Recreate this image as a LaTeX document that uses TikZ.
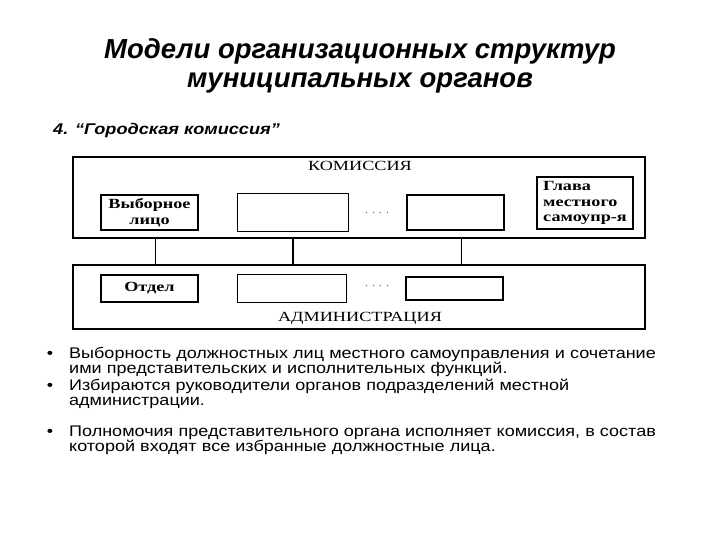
\documentclass[tikz,border=0pt]{standalone}
\usepackage{fontspec}
\setmainfont{Liberation Serif}
\setsansfont{Liberation Sans}
\newfontfamily\diapo[FakeStretch=1.17]{Liberation Sans}
\newfontfamily\scan[FakeStretch=1.3]{Liberation Serif}
\usetikzlibrary{positioning}

\begin{document}
\begin{tikzpicture}[
        % Styles de la figure (1 unité = 1 pixel de la référence)
        x=1pt, y=-1pt,
        every node/.style = {font=\sffamily},
        % Cadres extérieurs (commission, administration)
        cadre/.style = {
            draw,
            line width=2pt,
            minimum width=572pt
        },
        % Blocs intérieurs
        bloc/.style = {
            draw,
            line width=1.5pt,
            minimum width=97pt,
            minimum height=35pt,
            inner sep=1pt,
            align=center,
            font=\scan\bfseries\fontsize{14}{15.5}\selectfont
        },
        % Étiquettes des cadres
        etiquette/.style = {font=\scan\fontsize{14}{15}\selectfont},
        % Points de suspension
        points/.style = {font=\rmfamily\fontsize{12}{12}\selectfont, text=black!60},
        % Liaisons verticales
        lien/.style = {line width=1.5pt},
        % Texte des puces
        item/.style = {
            anchor=base west,
            inner sep=0pt,
            text width=630pt,
            align=left,
            font=\diapo\fontsize{15.4}{15.5}\selectfont
        },
        puce/.style = {anchor=base, inner sep=0pt, font=\diapo\fontsize{15.4}{15.5}\selectfont}
    ]

        \useasboundingbox (0,0) rectangle (720,540);

        % 1. Titres
        \node (titre) [anchor=base, align=center, font=\sffamily\bfseries\itshape\fontsize{27.5}{29}\selectfont]
            at (360,88) {Модели организационных структур\\муниципальных органов};
        \node (soustitre) [anchor=base west, inner sep=0pt, font=\diapo\bfseries\itshape\fontsize{15.5}{18}\selectfont]
            at (53,135) {4. “Городская комиссия”};

        % 2. Cadres extérieurs
        \node (kom) [cadre, minimum height=81pt] at (359,197.5) {};
        \node (adm) [cadre, minimum height=64pt] at (359,297) {};
        \node (komlbl) [etiquette] at (360,166) {КОМИССИЯ};
        \node (admlbl) [etiquette] at (360,318) {АДМИНИСТРАЦИЯ};

        % 3. Blocs de la commission
        \node (vyb)   [bloc] at (149.5,212.5) {Выборное\\лицо};
        \node (kom2)  [bloc, minimum width=111pt, minimum height=38pt, right=38pt of vyb] {};
        \node (kom3)  [bloc, right=57pt of kom2] {};
        \node (glava) [bloc, minimum width=96pt, minimum height=52pt, align=left, inner sep=0.5pt] at (585,203)
            {Глава\\местного\\самоупр-я};
        \node (kdots) [points] at (377,213) {.\,\,.\,\,.\,\,.};

        % 4. Blocs de l'administration
        \node (otd)   [bloc, minimum height=27pt] at (149.5,288.5) {Отдел};
        \node (adm2)  [bloc, minimum width=109pt, minimum height=28pt, right=38pt of otd] {};
        \node (adm3)  [bloc, minimum height=23pt, right=58pt of adm2] {};
        \node (adots) [points] at (377,286) {.\,\,.\,\,.\,\,.};

        % 5. Liaisons
        \draw [lien] ([xshift=6pt]vyb.center |- kom.south) -- ([xshift=6pt]vyb.center |- adm.north);
        \draw [lien] (kom2 |- kom.south) -- (kom2 |- adm.north);
        \draw [lien] ([xshift=6pt]kom3.center |- kom.south) -- ([xshift=6pt]kom3.center |- adm.north);

        % 6. Liste à puces
        \node (i1) [item] at (69,358) {Выборность должностных лиц местного самоуправления и сочетание\\ими представительских и исполнительных функций.};
        \node (i2) [item] at (69,390) {Избираются руководители органов подразделений местной\\администрации.};
        \node (i3) [item] at (69,436) {Полномочия представительного органа исполняет комиссия, в состав\\которой входят все избранные должностные лица.};
        \node (p1) [puce] at ([xshift=-19pt]i1.base west) {•};
        \node (p2) [puce] at ([xshift=-19pt]i2.base west) {•};
        \node (p3) [puce] at ([xshift=-19pt]i3.base west) {•};

    \end{tikzpicture}
\end{document}
